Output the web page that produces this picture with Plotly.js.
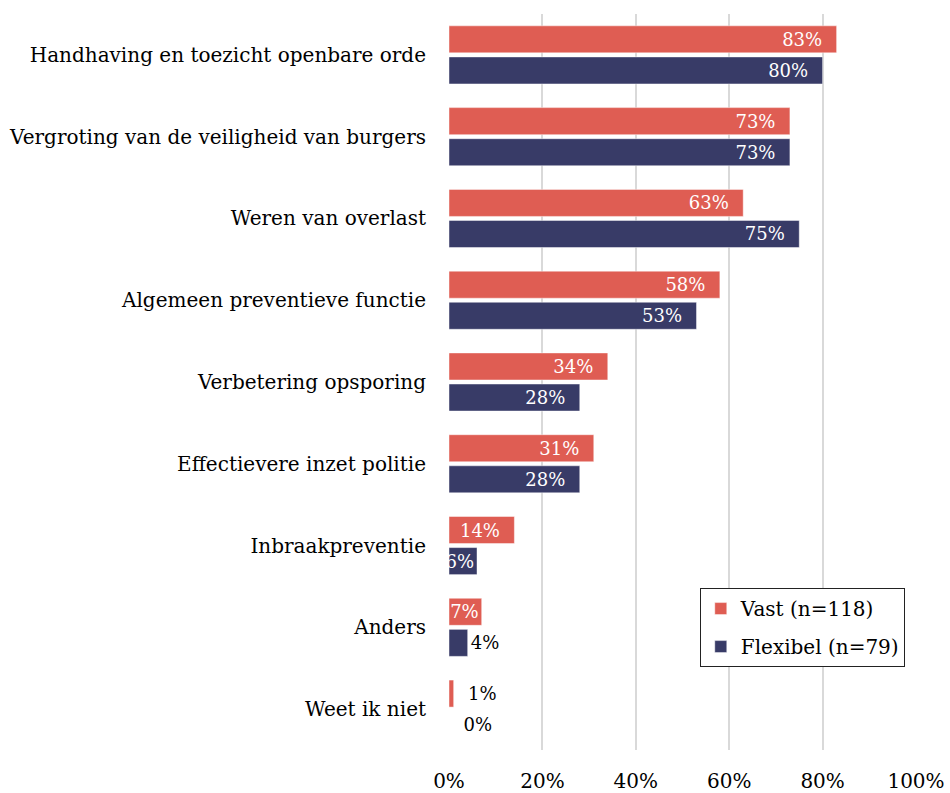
<!DOCTYPE html>
<html>
<head>
<meta charset="utf-8">
<script src="https://cdn.plot.ly/plotly-3.0.1.min.js"></script>
<style>html,body{margin:0;padding:0;background:#fff;}#chart{width:950px;height:793px;}</style>
</head>
<body>
<div id="chart"></div>
<script>
const categories = [
  "Handhaving en toezicht openbare orde",
  "Vergroting van de veiligheid van burgers",
  "Weren van overlast",
  "Algemeen preventieve functie",
  "Verbetering opsporing",
  "Effectievere inzet politie",
  "Inbraakpreventie",
  "Anders",
  "Weet ik niet"
];
const vast = [0.83, 0.73, 0.63, 0.58, 0.34, 0.31, 0.14, 0.07, 0.01];
const flexibel = [0.80, 0.73, 0.75, 0.53, 0.28, 0.28, 0.06, 0.04, 0.00];
const seriesNames = ["Vast (n=118)", "Flexibel (n=79)"];
const tickVals = [0, 0.2, 0.4, 0.6, 0.8, 1.0];
const tickText = ["0%", "20%", "40%", "60%", "80%", "100%"];

const FONT = "DejaVu Serif, Liberation Serif, serif";
const NB = "\u00a0";
function labels(vals) {
  return vals.map(v => {
    const s = Math.round(v * 100) + "%";
    if (v >= 0.1) return s + NB + NB;
    if (v < 0.02) return NB + NB + s;
    return s;
  });
}
function positions(vals) {
  return vals.map(v => v >= 0.05 ? "inside" : "outside");
}

function mk(vals, name, color, grp) {
  return {
    type: "bar",
    orientation: "h",
    y: categories,
    x: vals,
    name: name,
    legendgroup: grp,
    marker: {color: color, line: {color: "rgba(255,255,255,0.45)", width: 1}},
    text: labels(vals),
    textposition: positions(vals),
    texttemplate: "%{text}",
    insidetextanchor: "end",
    constraintext: "none",
    cliponaxis: false,
    insidetextfont: {family: FONT, size: 18, color: "#ffffff"},
    outsidetextfont: {family: FONT, size: 18, color: "#000000"},
    hoverinfo: "skip"
  };
}

const data = [
  mk(vast, seriesNames[0], "#DF5D53", "a"),
  mk(flexibel, seriesNames[1], "#383B67", "b")
];

const layout = {
  width: 950,
  height: 793,
  margin: {l: 449, r: 34, t: 14, b: 43},
  paper_bgcolor: "#ffffff",
  plot_bgcolor: "#ffffff",
  barmode: "group",
  bargap: 0.24,
  bargroupgap: 0.13,
  font: {family: FONT, size: 20, color: "#000000"},
  showlegend: true,
  legend: {
    x: 0.537, y: 0.22, xanchor: "left", yanchor: "top",
    bordercolor: "#222222", borderwidth: 1, bgcolor: "#ffffff",
    font: {family: FONT, size: 20, color: "#000000"},
    traceorder: "grouped",
    itemwidth: 20,
    tracegroupgap: 9
  },
  xaxis: {
    range: [0, 1.0],
    tickvals: tickVals,
    ticktext: tickText,
    showgrid: true,
    gridcolor: "#d9d9d9",
    gridwidth: 2,
    zeroline: false,
    showline: false,
    ticks: "",
    ticklabelstandoff: 17,
    tickfont: {family: FONT, size: 20, color: "#000000"},
    fixedrange: true
  },
  yaxis: {
    type: "category",
    autorange: "reversed",
    showgrid: false,
    zeroline: false,
    showline: false,
    ticks: "",
    ticklabelstandoff: 22,
    tickfont: {family: FONT, size: 20, color: "#000000"},
    fixedrange: true
  }
};

Plotly.newPlot("chart", data, layout, {displayModeBar: false, staticPlot: true});
</script>
</body>
</html>
